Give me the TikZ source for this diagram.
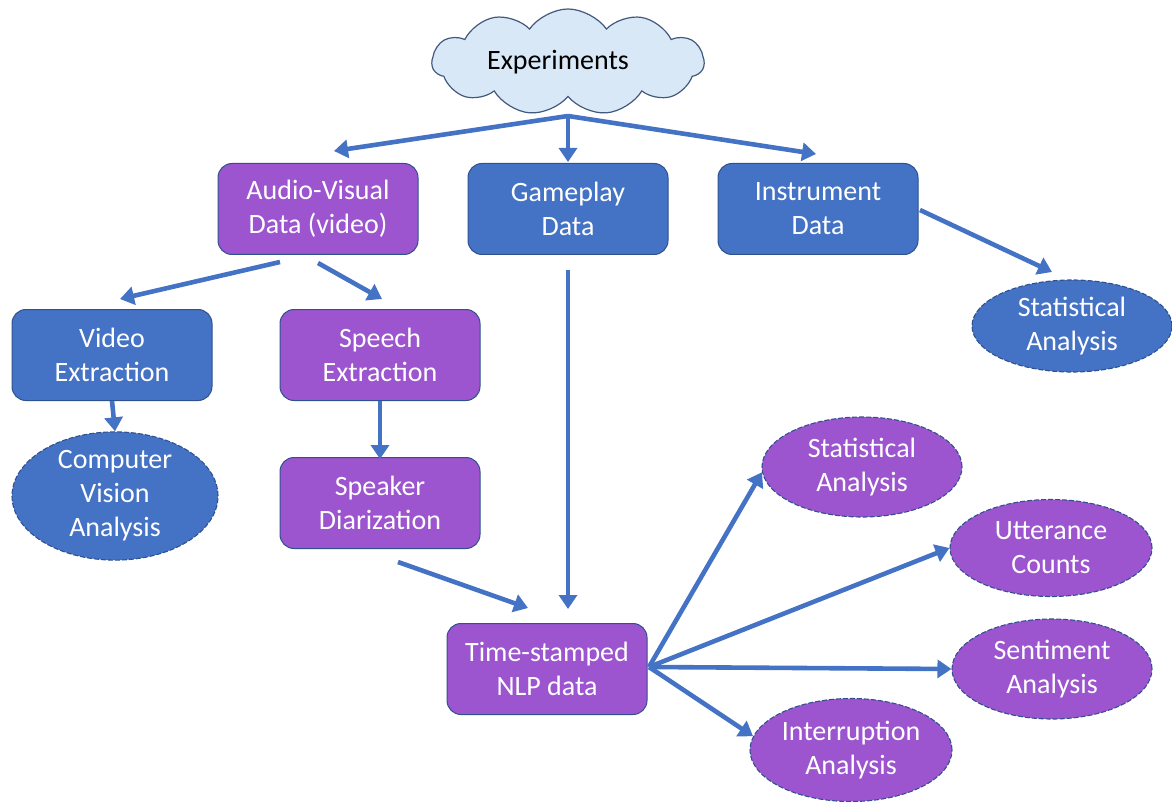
\documentclass[tikz,border=0pt]{standalone}
\usepackage{fontspec}
\setmainfont{Carlito}
\usetikzlibrary{shapes.symbols,shapes.geometric,arrows.meta}
\definecolor{oblue}{HTML}{4472C4}
\definecolor{opurple}{HTML}{9C55CF}
\definecolor{oborder}{HTML}{2F528F}
\definecolor{cloudfill}{HTML}{D9E8F6}
\definecolor{cloudline}{HTML}{42587D}
\tikzset{
  box/.style={draw=oborder, line width=1pt, rounded corners=14pt, minimum width=200pt, minimum height=91pt, text=white, align=center, font=\fontsize{28}{34}\selectfont, inner sep=0pt},
  bbox/.style={box, fill=oblue},
  pbox/.style={box, fill=opurple},
  oval/.style={ellipse, draw=oborder, dashed, dash pattern=on 5pt off 2pt, line width=1.1pt, text=white, align=center, font=\fontsize{28}{34}\selectfont, inner sep=0pt},
  boval/.style={oval, fill=oblue},
  poval/.style={oval, fill=opurple},
  arr/.style={draw=oblue, line width=4.6pt, -{Triangle[length=14pt,width=18pt]}},
}
\begin{document}
\begin{tikzpicture}[x=1pt,y=-1pt]
\useasboundingbox (0,0) rectangle (1172,802);
\node[cloud, cloud puffs=11, cloud puff arc=110, aspect=2.6, draw=cloudline, line width=1.2pt, fill=cloudfill, minimum width=272pt, minimum height=106pt, inner sep=0pt] (exp) at (568,62) {};
\node[font=\fontsize{28}{34}\selectfont] (expt) at (558,62) {Experiments};
\node[pbox] (av) at (318,209) {Audio-Visual\\Data (video)};
\node[bbox] (gp) at (568,209) {Gameplay\\Data};
\node[bbox] (inst) at (818,209) {Instrument\\Data};
\node[bbox] (ve) at (112,355) {Video\\Extraction};
\node[pbox] (se) at (380,355) {Speech\\Extraction};
\node[pbox] (sd) at (380,503) {Speaker\\Diarization};
\node[pbox] (nlp) at (547,669) {Time-stamped\\NLP data};
\node[boval, minimum width=200pt, minimum height=92pt] (sa1) at (1072,326) {Statistical\\Analysis};
\node[boval, minimum width=206pt, minimum height=128pt] (cv) at (115,496) {Computer\\Vision\\Analysis};
\node[poval, minimum width=200pt, minimum height=100pt] (sa2) at (862,467) {Statistical\\Analysis};
\node[poval, minimum width=202pt, minimum height=97pt] (uc) at (1051,548) {Utterance\\Counts};
\node[poval, minimum width=200pt, minimum height=100pt] (sent) at (1052,669) {Sentiment\\Analysis};
\node[poval, minimum width=202pt, minimum height=103pt] (ia) at (851,750) {Interruption\\Analysis};
\coordinate (root) at (568,116);
\coordinate (e1) at (334,151);
\coordinate (e2) at (568,162);
\coordinate (e3) at (816,154);
\coordinate (avl) at (280,262);
\coordinate (avr) at (318,263);
\coordinate (e4) at (120,299);
\coordinate (e5) at (382,299);
\coordinate (instr) at (920,210);
\coordinate (e6) at (1052,272);
\coordinate (gpb) at (568,270);
\coordinate (e7) at (568,609);
\coordinate (sdb) at (398,562);
\coordinate (e8) at (528,608);
\coordinate (nlpr) at (649,667);
\draw[arr] (root) -- (e1);
\draw[arr] (root) -- (e2);
\draw[arr] (root) -- (e3);
\draw[arr] (avl) -- (e4);
\draw[arr] (avr) -- (e5);
\draw[arr] (ve.south) -- (cv.north);
\draw[arr] (se.south) -- ([yshift=-2pt]sd.north);
\draw[arr] (instr) -- (e6);
\draw[arr] (gpb) -- (e7);
\draw[arr] (sdb) -- (e8);
\draw[arr] (nlpr) -- (sa2.183);
\draw[arr] (nlpr) -- (uc.west);
\draw[arr] (nlpr) -- (sent.west);
\draw[arr] (nlpr) -- (ia.172);
\end{tikzpicture}
\end{document}
